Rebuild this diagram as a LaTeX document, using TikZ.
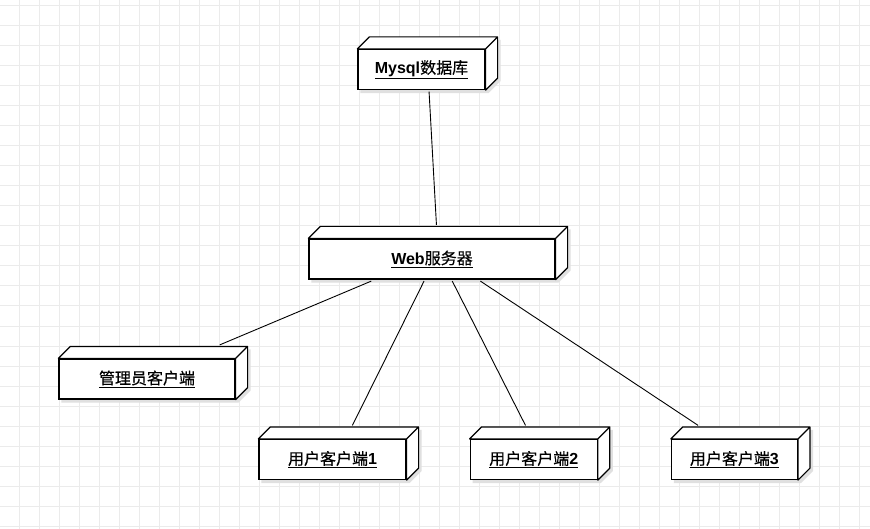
\documentclass[tikz,border=0pt]{standalone}
\usepackage{fontspec}
\setmainfont{Liberation Sans}
\newfontfamily\cjk[FakeBold=0.4]{Noto Sans CJK SC}
\usetikzlibrary{positioning,fit,backgrounds}
\newcommand{\zh}[1]{{\cjk #1}}

\begin{document}
\begin{tikzpicture}[x=1pt,y=1pt,semithick]
\tikzset{font=\fontsize{16}{19}\selectfont}
\tikzstyle{unode}=[draw=black,fill=white,line width=1.2pt,inner sep=0pt,minimum height=40pt,text=black]
\tikzstyle{face}=[draw=black,fill=white,line width=1.2pt,line join=round]
\tikzstyle{bbox}=[inner sep=0pt,outer sep=1.5pt]
\tikzstyle{gridline}=[draw=black!8,line width=1pt]

\useasboundingbox (0,0) rectangle (870,-529);

\begin{pgfonlayer}{background}
  \fill[white] (0,0) rectangle (870,-529);
  \foreach \x in {19,39,...,859} \draw[gridline] (\x,0) -- (\x,-529);
  \foreach \y in {6,26,...,526} \draw[gridline] (0,-\y) -- (870,-\y);
\end{pgfonlayer}

  \node[unode,minimum width=127pt]             (db)    at (421.5,-69.5) {\underline{\textbf{Mysql}\zh{数据库}}};
  \node[unode,minimum width=246pt]             (web)   at (432,-259)    {\underline{\textbf{Web}\zh{服务器}}};
  \node[unode,minimum width=176pt]             (admin) at (147,-379)    {\underline{\zh{管理员客户端}}};
  \node[unode,minimum width=147pt]             (u1)    at (332.5,-459.5) {\underline{\zh{用户客户端}\textbf{1}}};
  \node[unode,minimum width=127pt,right=63pt of u1] (u2)                {\underline{\zh{用户客户端}\textbf{2}}};
  \node[unode,minimum width=126pt,right=73pt of u2] (u3)                {\underline{\zh{用户客户端}\textbf{3}}};

  % depth faces, shadow and outer box of each node
  \foreach \n in {db,web,admin,u1,u2,u3}{
    \begin{pgfonlayer}{background}
      \fill[black!12] ([shift={(3,-3)}]\n.south west) -- ([shift={(3,-3)}]\n.north west) -- ++(12,12)
        -- ([shift={(15,9)}]\n.north east) -- ([shift={(15,9)}]\n.south east) -- ([shift={(3,-3)}]\n.south east) -- cycle;
    \end{pgfonlayer}
    \draw[face] (\n.north west) -- ++(12,12) -- ([shift={(12,12)}]\n.north east)
      -- ([shift={(12,12)}]\n.south east) -- (\n.south east) -- (\n.north east) -- cycle
      (\n.north east) -- ++(12,12);
    \coordinate (\n-top) at ([shift={(12,12)}]\n.north east);
    \node[bbox,fit=(\n.south west)(\n-top)] (\n-box) {};
  }

  \path[line width=0.9pt]
  (db-box)    edge    (web-box)
  (web-box)   edge    (admin-box)
  (web-box)   edge    (u1-box)
  (web-box)   edge    (u2-box)
  (web-box)   edge    (u3-box)
  ; %end path
\end{tikzpicture}
\end{document}
